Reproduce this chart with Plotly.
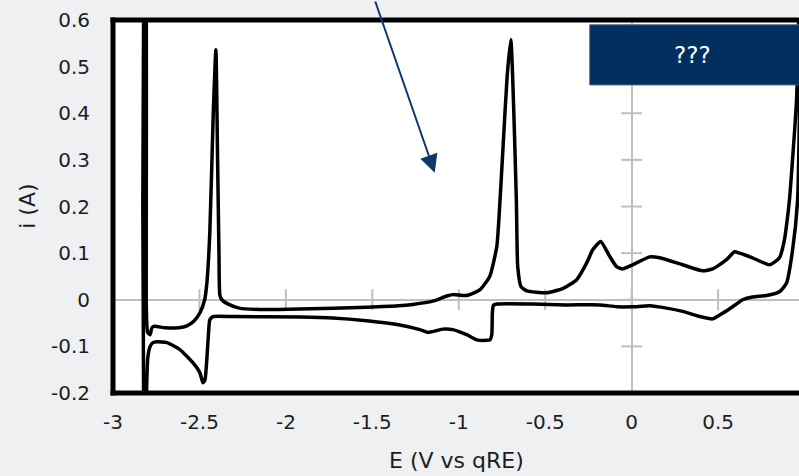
import plotly.graph_objects as go

# ---- data ----
E_V = [
    -2.800, -2.786, -2.775, -2.760, -2.700, -2.620, -2.572, -2.530, -2.497, -2.470,
    -2.457, -2.440, -2.420, -2.405, -2.395, -2.387, -2.382, -2.370, -2.330, -2.270,
    -2.150, -1.920, -1.532, -1.350, -1.266, -1.150, -1.070, -1.035, -0.954, -0.879,
    -0.821, -0.780, -0.765, -0.745, -0.720, -0.699, -0.667, -0.659, -0.640, -0.607,
    -0.491, -0.399, -0.318, -0.260, -0.225, -0.179, -0.127, -0.087, -0.052, 0.006,
    0.104, 0.162, 0.295, 0.410, 0.468, 0.549, 0.595, 0.624, 0.699, 0.798,
    0.855, 0.884, 0.902, 0.913, 0.954, 0.975, 0.990,
    0.978, 0.960, 0.931, 0.896, 0.855, 0.780, 0.699, 0.642, 0.584, 0.526,
    0.468, 0.393, 0.295, 0.202, 0.104, 0.006, -0.087, -0.185, -0.380, -0.572,
    -0.780, -0.800, -0.806, -0.809, -0.820, -0.838, -0.896, -0.954, -1.035, -1.092,
    -1.127, -1.179, -1.225, -1.341, -1.532, -1.728, -1.919, -2.306, -2.422, -2.440,
    -2.450, -2.468, -2.480, -2.497, -2.538, -2.613, -2.688, -2.746, -2.769, -2.785,
    -2.798, -2.806, -2.808, -2.821, -2.821, -2.808, -2.808, -2.800,
]
I_A = [
    -0.070, -0.075, -0.060, -0.057, -0.060, -0.060, -0.056, -0.045, -0.028, 0.000,
    0.036, 0.144, 0.400, 0.536, 0.300, 0.100, 0.010, 0.000, -0.010, -0.018,
    -0.021, -0.020, -0.016, -0.013, -0.010, -0.003, 0.008, 0.011, 0.009, 0.021,
    0.050, 0.114, 0.190, 0.320, 0.480, 0.558, 0.215, 0.071, 0.028, 0.019,
    0.015, 0.024, 0.043, 0.079, 0.107, 0.125, 0.093, 0.071, 0.066, 0.075,
    0.092, 0.090, 0.075, 0.062, 0.066, 0.086, 0.103, 0.100, 0.090, 0.075,
    0.090, 0.129, 0.178, 0.215, 0.430, 0.750, 0.950,
    0.600, 0.215, 0.107, 0.036, 0.017, 0.009, 0.006, 0.000, -0.015, -0.029,
    -0.041, -0.036, -0.025, -0.018, -0.013, -0.015, -0.015, -0.011, -0.011, -0.009,
    -0.009, -0.012, -0.030, -0.075, -0.086, -0.087, -0.086, -0.075, -0.064, -0.063,
    -0.066, -0.070, -0.064, -0.054, -0.045, -0.039, -0.037, -0.036, -0.036, -0.043,
    -0.086, -0.172, -0.178, -0.157, -0.135, -0.107, -0.092, -0.090, -0.092, -0.100,
    -0.122, -0.200, -0.350, -0.400, 0.800, 0.850, 0.000, -0.070,
]

x_tick_vals = [-3, -2.5, -2, -1.5, -1, -0.5, 0, 0.5]
x_tick_text = ["-3", "-2.5", "-2", "-1.5", "-1", "-0.5", "0", "0.5"]
y_tick_vals = [-0.2, -0.1, 0, 0.1, 0.2, 0.3, 0.4, 0.5, 0.6]
y_tick_text = ["-0.2", "-0.1", "0", "0.1", "0.2", "0.3", "0.4", "0.5", "0.6"]

x_title = "E (V vs qRE)"
y_title = "i (A)"
box_text = "???"

# ---- styling ----
FONT = "DejaVu Sans"
GRAY = "#bfbfbf"
NAVY = "#022f5e"
TXT = "#1e1e1e"

fig = go.Figure()

# tick marks on the crossing axes (Excel-style axes through zero)
fig.add_trace(go.Scatter(
    x=[0] * len(y_tick_vals), y=y_tick_vals, mode="markers",
    marker=dict(symbol="line-ew", size=15, line=dict(width=2, color=GRAY)),
    hoverinfo="skip", showlegend=False, cliponaxis=False,
))
fig.add_trace(go.Scatter(
    x=x_tick_vals, y=[0] * len(x_tick_vals), mode="markers",
    marker=dict(symbol="line-ns", size=15, line=dict(width=2, color=GRAY)),
    hoverinfo="skip", showlegend=False, cliponaxis=False,
))

# CV curve
fig.add_trace(go.Scatter(
    x=E_V, y=I_A, mode="lines",
    line=dict(color="black", width=3.5, shape="spline", smoothing=0.5),
    hoverinfo="skip", showlegend=False,
))

fig.update_layout(
    width=799, height=476,
    margin=dict(l=113, r=0, t=20, b=83),
    paper_bgcolor="#eef0f2",
    plot_bgcolor="white",
    font=dict(family=FONT, size=20, color=TXT),
    xaxis=dict(
        range=[-3, 0.968], tickvals=x_tick_vals, ticktext=x_tick_text,
        showgrid=False, zeroline=True, zerolinecolor=GRAY, zerolinewidth=2,
        showline=False, ticks="", ticklabelstandoff=15,
        tickfont=dict(family=FONT, size=20, color=TXT),
    ),
    yaxis=dict(
        range=[-0.2, 0.6], tickvals=y_tick_vals, ticktext=y_tick_text,
        showgrid=False, zeroline=True, zerolinecolor=GRAY, zerolinewidth=2,
        showline=False, ticks="", ticklabelstandoff=22,
        tickfont=dict(family=FONT, size=20, color=TXT),
    ),
    shapes=[
        # plot frame (left, top, bottom)
        dict(type="line", xref="paper", yref="paper", x0=0, x1=0, y0=-0.007, y1=1.007,
             line=dict(color="black", width=5)),
        dict(type="line", xref="paper", yref="paper", x0=-0.0036, x1=1.01, y0=1, y1=1,
             line=dict(color="black", width=5)),
        dict(type="line", xref="paper", yref="paper", x0=-0.0036, x1=1.01, y0=0, y1=0,
             line=dict(color="black", width=5)),
        # label box
        dict(type="rect", xref="paper", yref="paper", x0=0.695, x1=1.02, y0=0.826, y1=0.987,
             fillcolor=NAVY, line=dict(color="#3d6189", width=1)),
    ],
    annotations=[
        dict(text=box_text, xref="paper", yref="paper", x=0.845, y=0.905,
             xanchor="center", yanchor="middle",
             showarrow=False, font=dict(family=FONT, size=23, color="white")),
        dict(text=y_title, xref="paper", yref="paper", x=-0.125, y=0.5, textangle=-90,
             xanchor="center", yanchor="middle",
             showarrow=False, font=dict(family=FONT, size=22, color=TXT)),
        dict(text=x_title, xref="paper", yref="paper", x=0.5, y=-0.18,
             xanchor="center", yanchor="middle",
             showarrow=False, font=dict(family=FONT, size=22, color=TXT)),
        dict(text="", x=-1.139, y=0.2725, xref="x", yref="y",
             showarrow=True, ax=-60, ay=-185, axref="pixel", ayref="pixel",
             arrowhead=2, arrowsize=1.8, arrowwidth=2, arrowcolor="#0b3a6a", standoff=0),
    ],
)

fig.write_html("out.html")
